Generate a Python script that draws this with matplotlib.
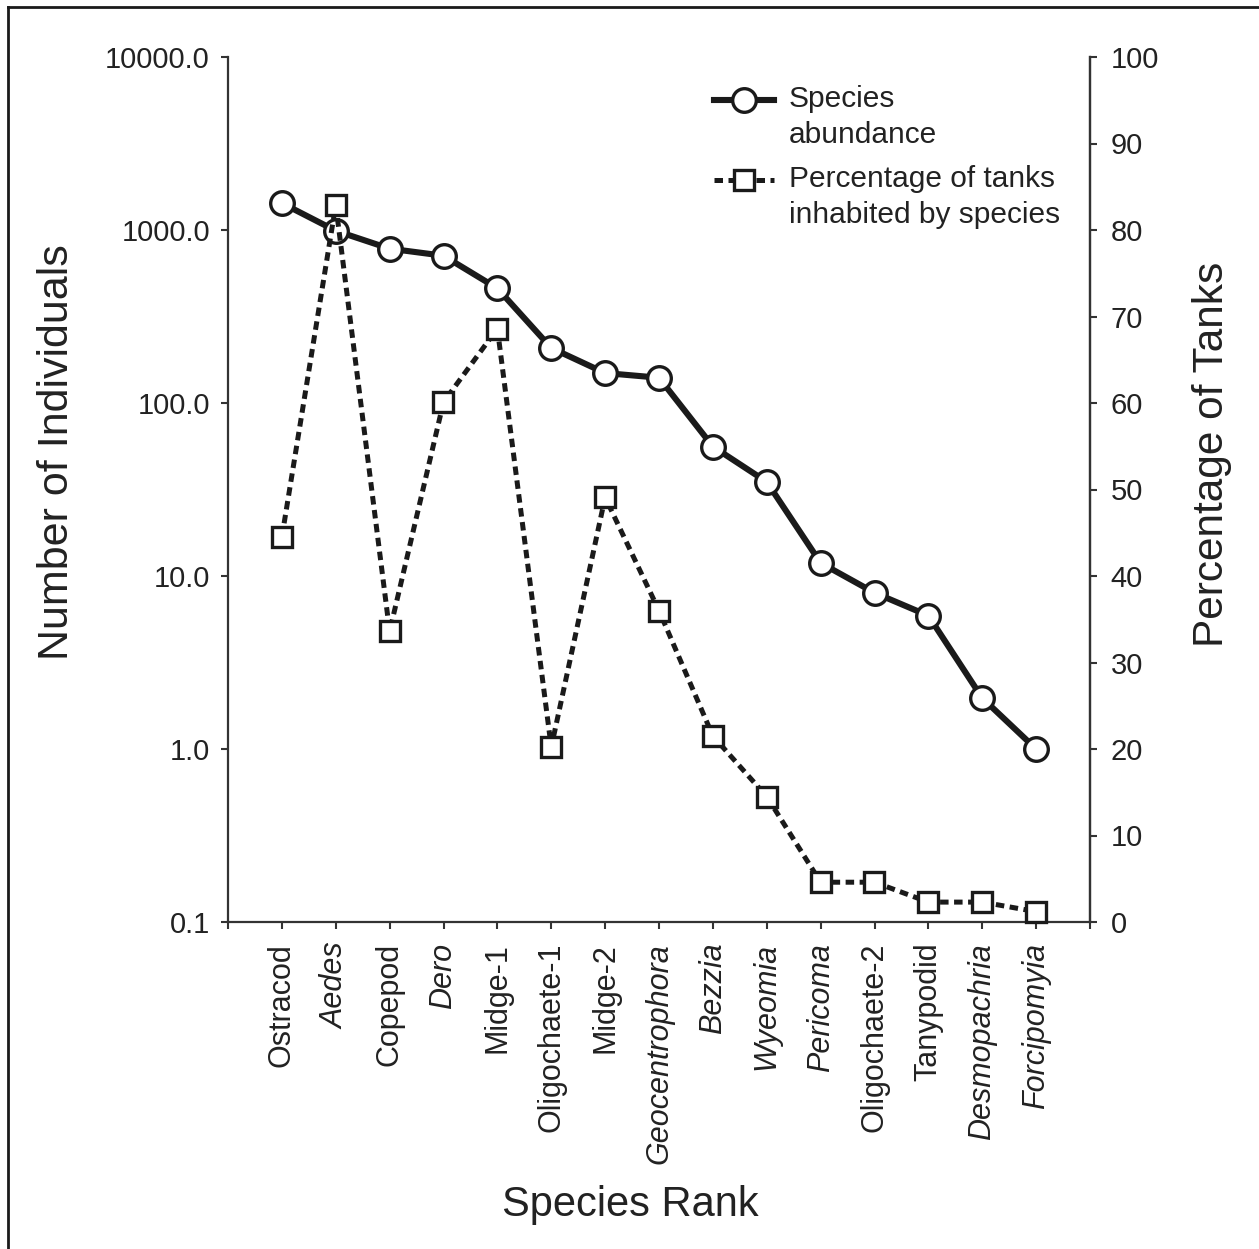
import numpy as np
import matplotlib
matplotlib.use("Agg")
import matplotlib.pyplot as plt
from matplotlib.lines import Line2D
from matplotlib.legend_handler import HandlerLine2D
from matplotlib.transforms import Affine2D

plt.rcParams['font.family'] = ['Liberation Sans', 'DejaVu Sans']

especie = ['Ostracod', 'Aedes', 'Copepod', 'Dero', 'Midge-1', 'Oligochaete-1',
           'Midge-2', 'Geocentrophora', 'Bezzia', 'Wyeomia', 'Pericoma',
           'Oligochaete-2', 'Tanypodid', 'Desmopachria', 'Forcipomyia']
corsivo = [False, True, False, True, False, False, False, True, True, True,
           True, False, False, True, True]
abbondanza = [1430, 990, 780, 710, 460, 208, 149, 140, 56, 35, 11.9, 8.0, 5.9, 1.97, 1.0]
percentuale = [44.5, 82.9, 33.6, 60.1, 68.6, 20.2, 49.1, 36.0, 21.5, 14.5, 4.6, 4.6,
               2.3, 2.3, 1.2]
yticks_sx = [0.1, 1, 10, 100, 1000, 10000]
yticks_sx_lab = ['0.1', '1.0', '10.0', '100.0', '1000.0', '10000.0']
yticks_dx = list(range(0, 101, 10))

grigio = '#333333'
testo = '#222222'
nero = '#1a1a1a'
tratteggio = (0, (1.7, 1.1))


# sposta il simbolo della legenda all'altezza della prima riga
class HandlerSu(HandlerLine2D):
    def __init__(self, su, **kw):
        super().__init__(**kw)
        self.su = su

    def create_artists(self, legend, orig_handle, xdescent, ydescent, width,
                       height, fontsize, trans):
        t = Affine2D().translate(0, self.su) + trans
        return super().create_artists(legend, orig_handle, xdescent, ydescent,
                                      width, height, fontsize, t)


fig = plt.figure(figsize=(12.59, 12.49), dpi=100)
ax = fig.add_axes([228/1259, 1-922/1249, 862/1259, 865/1249])
ax2 = ax.twinx()

x = np.arange(1, len(especie)+1)

ax.plot(x, abbondanza, color=nero, lw=4.4, marker='o', ms=17,
        mfc='white', mec=nero, mew=2.4, zorder=3, clip_on=False)
ax2.plot(x, percentuale, color=nero, lw=3.6, ls=tratteggio, marker='s',
         ms=15, mfc='white', mec=nero, mew=2.4, zorder=3, clip_on=False)

ax.set_yscale('log')
ax.set_ylim(0.1, 10000)
ax.set_yticks(yticks_sx)
ax.set_yticklabels(yticks_sx_lab)
ax.yaxis.set_minor_locator(matplotlib.ticker.NullLocator())
ax.set_xlim(0, 16)
ax.set_xticks(range(0, 17))
ax.set_xticklabels([''] + especie + [''], rotation=90, va='top', ha='center')

ax2.set_ylim(0, 100)
ax2.set_yticks(yticks_dx)

for a in (ax, ax2):
    a.spines['top'].set_visible(False)
    for s in a.spines.values():
        s.set_color(grigio)
        s.set_linewidth(1.6)
    a.tick_params(direction='out', length=5, width=1.5, color=grigio,
                  labelsize=21, labelcolor=testo)
ax.tick_params(axis='y', pad=8)
ax.tick_params(axis='x', pad=10, labelsize=22)
ax2.tick_params(axis='y', pad=10)
ax2.spines['left'].set_visible(False)
ax2.spines['bottom'].set_visible(False)
for lab, it in zip(ax.get_xticklabels()[1:-1], corsivo):
    if it:
        lab.set_style('italic')

fig.text(57/1259, 1-452/1249, 'Number of Individuals', rotation=90, ha='center',
         va='center', fontsize=31, color=testo)
fig.text(1212/1259, 1-454/1249, 'Percentage of Tanks', rotation=90, ha='center',
         va='center', fontsize=30.5, color=testo)
fig.text(630/1259, 1-1205/1249, 'Species Rank', ha='center', va='center',
         fontsize=30, color=testo)

h1 = Line2D([], [], color=nero, lw=4.4, marker='o', ms=17, mfc='white',
            mec=nero, mew=2.4)
h2 = Line2D([], [], color=nero, lw=3.6, ls=tratteggio, marker='s', ms=15,
            mfc='white', mec=nero, mew=2.4)
leg = ax2.legend([h1, h2], ['Species\nabundance', 'Percentage of tanks\ninhabited by species'],
                 loc='upper left', bbox_to_anchor=(714/1259, 1-85/1249),
                 bbox_transform=fig.transFigure, frameon=False, fontsize=21.5,
                 handlelength=2.0, handletextpad=0.5, labelspacing=0.55,
                 borderpad=0, borderaxespad=0,
                 handler_map={h1: HandlerSu(12.5), h2: HandlerSu(12.5)})
for t in leg.get_texts():
    t.set_color(testo)
    t.set_linespacing(1.35)

# bordo esterno
fig.add_artist(Line2D([8/1259, 8/1259], [0, 1-7/1249], color=nero, lw=2,
                      transform=fig.transFigure))
fig.add_artist(Line2D([8/1259, 1], [1-7/1249, 1-7/1249], color=nero, lw=2,
                      transform=fig.transFigure))

fig.savefig('out.png', dpi=100)
